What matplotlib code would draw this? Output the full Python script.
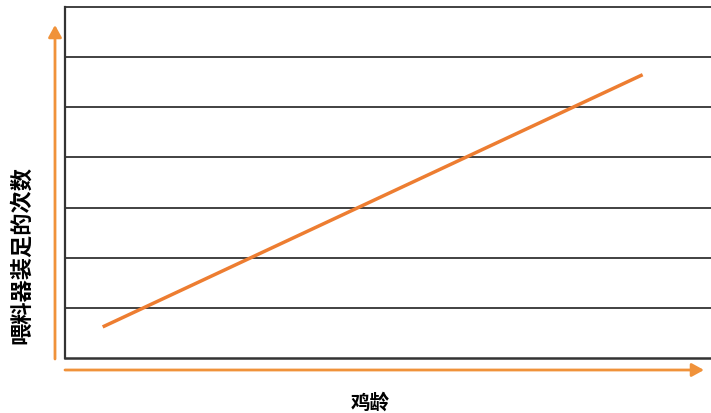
import matplotlib
matplotlib.use('Agg')
import matplotlib.pyplot as plt
from matplotlib.patches import FancyArrowPatch

plt.rcParams['font.family'] = ['Noto Sans CJK SC', 'DejaVu Sans']

# data (arbitrary units, the chart has no ticks)
age = [0.7, 10.73]
fills = [0.62, 5.65]
grid_levels = [1, 2, 3, 4, 5, 6, 7]

W, H = 711, 414
fig = plt.figure(figsize=(W / 100, H / 100), dpi=100)
ax = fig.add_axes([65 / W, (H - 359) / H, (W - 65) / W, (359 - 8) / H])

ax.set_xlim(0, 12)
ax.set_ylim(0, 7)
for g in grid_levels:
    ax.axhline(g, color='#333333', lw=1.3, zorder=1, clip_on=False)
ax.plot(age, fills, color='#ed7d31', lw=2.5, solid_capstyle='butt', zorder=3)

ax.set_xticks([])
ax.set_yticks([])
for s in ('top', 'right'):
    ax.spines[s].set_visible(False)
ax.spines['left'].set_color('#333333')
ax.spines['left'].set_linewidth(1.6)
ax.spines['bottom'].set_color('#333333')
ax.spines['bottom'].set_linewidth(1.8)

# orange axis arrows (figure pixel coordinates)
arrow_kw = dict(arrowstyle='-|>,head_length=0.6,head_width=0.33',
                mutation_scale=12, color='#f0923a', lw=2.0,
                shrinkA=0, shrinkB=0)
fig.add_artist(FancyArrowPatch(
    (55 / W, (H - 360) / H), (55 / W, (H - 26) / H),
    transform=fig.transFigure, **arrow_kw))
fig.add_artist(FancyArrowPatch(
    (65 / W, (H - 371) / H), (704 / W, (H - 371) / H),
    transform=fig.transFigure, **arrow_kw))

fig.text(22 / W, (H - 255) / H, '喂料器装足的次数', rotation=90,
         ha='center', va='center', fontsize=16, fontweight='bold')
fig.text(370 / W, (H - 403) / H, '鸡龄', ha='center', va='center',
         fontsize=14, fontweight='bold')

fig.savefig('out.png', dpi=100)
